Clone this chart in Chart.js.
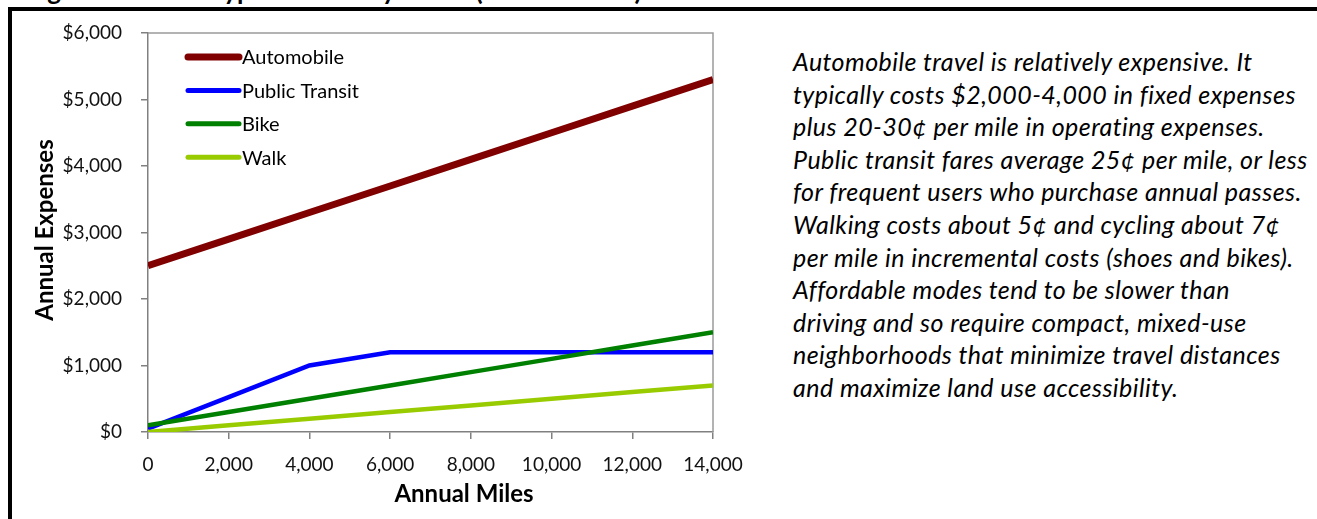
<!DOCTYPE html>
<html><head><meta charset="utf-8">
<script src="https://cdn.jsdelivr.net/npm/chart.js@4"></script>
<style>
html,body{margin:0;padding:0;background:#fff;width:1317px;height:519px;overflow:hidden;position:relative;font-family:Lato,sans-serif;}
#frameTop{position:absolute;left:8px;top:7px;width:1309px;height:4px;background:#000;z-index:3;}
#frameLeft{position:absolute;left:8px;top:7px;width:4px;height:512px;background:#000;z-index:3;}
.tt{position:absolute;top:-23px;font-weight:bold;font-size:26px;line-height:26px;white-space:pre;color:#000;}
#note{position:absolute;left:793px;top:45px;font-style:italic;font-size:25px;letter-spacing:0.45px;line-height:32.6px;color:#000;white-space:pre;}
canvas{position:absolute;left:0;top:0;}
</style></head>
<body>
<div class="tt" style="left:26px">Figure 5</div>
<div class="tt" style="left:210px">Typical Costs by Mode (Annual Costs)</div>
<div id="frameTop"></div><div id="frameLeft"></div>
<canvas id="c" width="760" height="519"></canvas>
<div id="note">Automobile travel is relatively expensive. It
typically costs $2,000-4,000 in fixed expenses
plus 20-30¢ per mile in operating expenses.
Public transit fares average 25¢ per mile, or less
for frequent users who purchase annual passes.
Walking costs about 5¢ and cycling about 7¢
per mile in incremental costs (shoes and bikes).
Affordable modes tend to be slower than
driving and so require compact, mixed-use
neighborhoods that minimize travel distances
and maximize land use accessibility.</div>
<script>
const miles = [0, 2000, 4000, 6000, 8000, 10000, 12000, 14000];
const automobile = [2500, 2900, 3300, 3700, 4100, 4500, 4900, 5300];
const publicTransit = [50, 525, 1000, 1200, 1200, 1200, 1200, 1200];
const bike = [100, 300, 500, 700, 900, 1100, 1300, 1500];
const walk = [0, 100, 200, 300, 400, 500, 600, 700];
const seriesNames = ['Automobile', 'Public Transit', 'Bike', 'Walk'];
const seriesColors = ['#800000', '#0000FF', '#008000', '#99CC00'];
const seriesWidths = [7, 4.5, 4.5, 4.5];
const yTitle = 'Annual Expenses';
const xTitle = 'Annual Miles';

const seriesValues = [automobile, publicTransit, bike, walk];
const datasets = seriesValues.map((vals, i) => ({
  label: seriesNames[i],
  data: vals.map((v, j) => ({x: miles[j], y: v})),
  borderColor: seriesColors[i],
  backgroundColor: seriesColors[i],
  borderWidth: seriesWidths[i],
  pointRadius: 0,
  tension: 0,
  fill: false,
  borderCapStyle: 'butt',
  order: 4 - i
}));

const FONT = 'Lato, sans-serif';

const decor = {
  id: 'decor',
  beforeDatasetsDraw(chart) {
    const {ctx, chartArea: a} = chart;
    ctx.save();
    ctx.strokeStyle = '#9a9a9a';
    ctx.lineWidth = 1.5;
    ctx.beginPath();
    ctx.moveTo(a.left, a.top); ctx.lineTo(a.right, a.top); ctx.lineTo(a.right, a.bottom);
    ctx.stroke();
    ctx.restore();
  },
  afterDraw(chart) {
    const {ctx, chartArea: a} = chart;
    ctx.save();
    // legend
    chart.data.datasets.forEach((ds, i) => {
      const y = a.top + 24 + i * 33.4;
      ctx.strokeStyle = ds.borderColor;
      ctx.lineWidth = i === 0 ? 7 : 5;
      ctx.lineCap = 'round';
      ctx.beginPath();
      ctx.moveTo(a.left + 40, y); ctx.lineTo(a.left + 91, y);
      ctx.stroke();
      ctx.fillStyle = '#000';
      ctx.font = '20px ' + FONT;
      ctx.textBaseline = 'middle';
      ctx.textAlign = 'left';
      ctx.fillText(ds.label, a.left + 94, y + 1);
    });
    // axis titles
    ctx.font = 'bold 24px ' + FONT;
    ctx.textAlign = 'center';
    ctx.textBaseline = 'middle';
    ctx.fillText(xTitle, 464, 494);
    ctx.translate(45, 230);
    ctx.rotate(-Math.PI / 2);
    ctx.fillText(yTitle, 0, 0);
    ctx.restore();
  }
};

new Chart(document.getElementById('c'), {
  type: 'line',
  data: {datasets},
  options: {
    responsive: false,
    animation: false,
    devicePixelRatio: 1,
    layout: {padding: {left: 0, top: 33, right: 47, bottom: 0}},
    plugins: {legend: {display: false}, tooltip: {enabled: false}, title: {display: false}},
    scales: {
      x: {
        type: 'linear', min: 0, max: 14000,
        afterFit(s) { s.height = 87; },
        ticks: {stepSize: 2000, color: '#111', font: {family: FONT, size: 19}, padding: 14, maxRotation: 0,
          callback: v => v.toLocaleString('en-US')},
        grid: {drawOnChartArea: false, drawTicks: true, tickLength: 7, color: '#808080', lineWidth: 1.5},
        border: {color: '#808080', width: 1.5}
      },
      y: {
        min: 0, max: 6000,
        afterFit(s) { s.width = 148; },
        ticks: {stepSize: 1000, color: '#111', font: {family: FONT, size: 19}, padding: 19,
          callback: v => '$' + v.toLocaleString('en-US')},
        grid: {drawOnChartArea: false, drawTicks: true, tickLength: 7, color: '#808080', lineWidth: 1.5},
        border: {color: '#808080', width: 1.5}
      }
    }
  },
  plugins: [decor]
});
</script>
</body></html>
